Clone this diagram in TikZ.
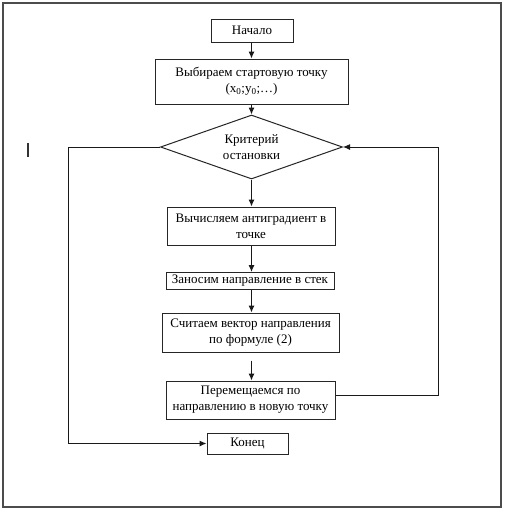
\documentclass[tikz,border=0pt]{standalone}
\usepackage{fontspec}
\setmainfont{Liberation Serif}
\usetikzlibrary{shapes.geometric,arrows.meta}
\begin{document}
\begin{tikzpicture}[x=1pt,y=-1pt,
  every node/.style={font=\fontsize{13}{16}\selectfont, align=center, inner sep=0pt},
  blk/.style={draw=black!85, line width=1pt, rectangle, fill=white},
  dec/.style={draw=black!85, line width=1pt, diamond, aspect=2.84, fill=white},
  arr/.style={draw=black!90, line width=1pt, -{Latex[length=7pt,width=6pt]}},
  ln/.style={draw=black!90, line width=1pt}]
\useasboundingbox (0,0) rectangle (505,512);
\fill[white] (0,0) rectangle (505,512);
\draw[draw=black!70, line width=1.6pt] (3,3) rectangle (501,507);
\draw[line width=2pt, black!80] (28,143) -- (28,157);

\node[blk, minimum width=82pt, minimum height=23pt] (start) at (252,30.5) {Начало};
\node[blk, minimum width=193pt, minimum height=45pt] (init) at (251.5,81.5) {Выбираем стартовую точку\\(x\textsubscript{0};y\textsubscript{0};…)};
\node[dec, minimum width=182pt, minimum height=64pt] (crit) at (251.5,147) {Критерий\\остановки};
\node[blk, minimum width=168pt, minimum height=38pt] (grad) at (251,226) {Вычисляем антиградиент в\\точке};
\node[blk, minimum width=168pt, minimum height=17pt] (push) at (250,281) {Заносим направление в стек};
\node[blk, minimum width=177pt, minimum height=39pt] (vec) at (250.5,332.5) {Считаем вектор направления\\по формуле (2)};
\node[blk, minimum width=169pt, minimum height=38pt] (move) at (250.5,400) {Перемещаемся по\\направлению в новую точку};
\node[blk, minimum width=81pt, minimum height=21pt] (stop) at (247.5,443.5) {Конец};

\coordinate (axis) at (251.5,0);
\coordinate (lft) at (68,147);
\coordinate (rgt) at (438,395);

\draw[arr] (start.south -| axis) -- (init.north -| axis);
\draw[arr] (init.south -| axis) -- (crit.north);
\draw[arr] (crit.south) -- (grad.north -| axis);
\draw[arr] (grad.south -| axis) -- (push.north -| axis);
\draw[arr] (push.south -| axis) -- (vec.north -| axis);
\draw[arr, shorten <=8pt] (vec.south -| axis) -- (move.north -| axis);
\draw[arr] (crit.west) -- (lft) |- (stop.west);
\draw[arr] (move.east |- rgt) -- (rgt) |- (crit.east);
\end{tikzpicture}
\end{document}
